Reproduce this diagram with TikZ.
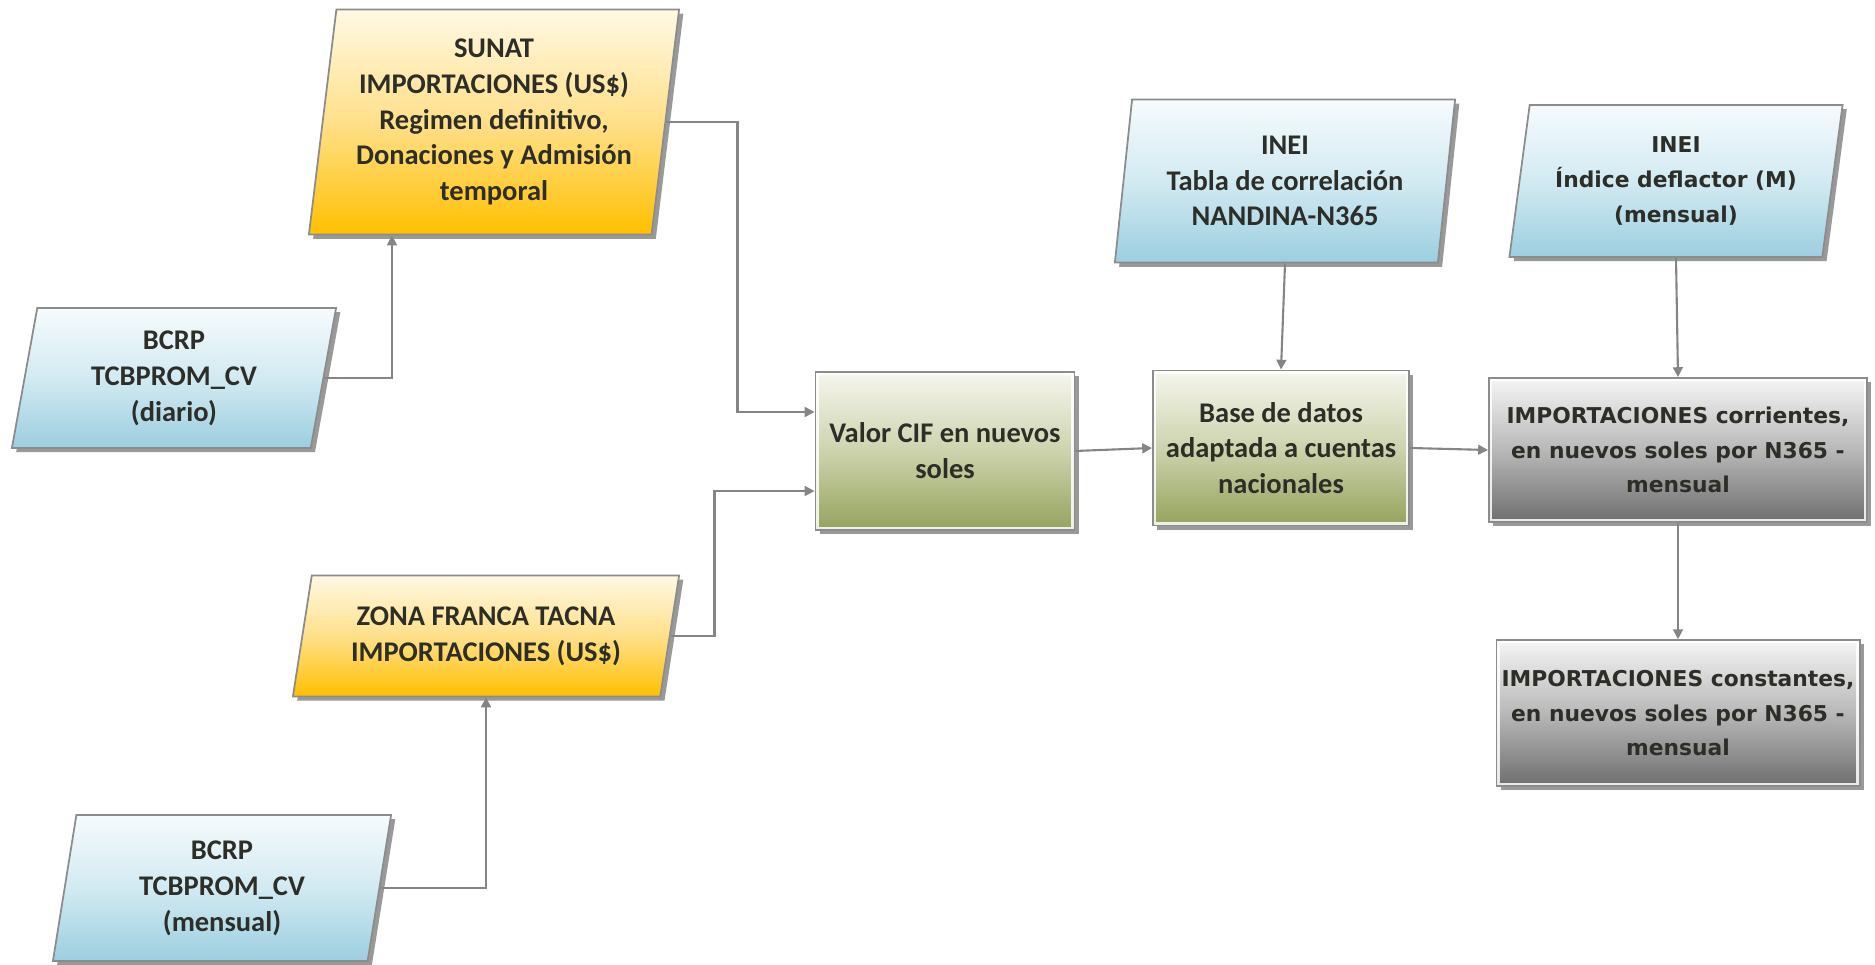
\documentclass[tikz,border=0pt]{standalone}
\usepackage{fontspec}
\setmainfont{Carlito}
\newfontfamily\verdfont{DejaVu Sans}
\usepackage{tikz}
\usetikzlibrary{arrows.meta,shapes.geometric,shadows}

\definecolor{tinta}{HTML}{2E2E28}
\definecolor{borde}{HTML}{8C8C8C}
\definecolor{linea}{HTML}{858585}
\definecolor{naranjaA}{HTML}{FFF9E4}
\definecolor{naranjaB}{HTML}{FFE08A}
\definecolor{naranjaC}{HTML}{FFC000}
\definecolor{celesteA}{HTML}{F6FBFD}
\definecolor{celesteB}{HTML}{D2EAF2}
\definecolor{celesteC}{HTML}{9CCEE0}
\definecolor{olivaA}{HTML}{F6F6EE}
\definecolor{olivaB}{HTML}{CDD3AD}
\definecolor{olivaC}{HTML}{95A35D}
\definecolor{grisA}{HTML}{F5F5F5}
\definecolor{grisB}{HTML}{B8B8B8}
\definecolor{grisC}{HTML}{6E6E6E}

\begin{document}
\begin{tikzpicture}[x=0.01cm,y=-0.01cm,node distance=2.63cm,
  >={Triangle[length=2.8pt,width=2.8pt]},
  every node/.style={text=tinta,align=center,inner sep=1pt,font=\bfseries\fontsize{8.1}{10.2}\selectfont},
  verdana/.style={font=\verdfont\bfseries\fontsize{6.2}{9.9}\selectfont},
  caja/.style={draw=borde,line width=0.5pt,drop shadow={shadow xshift=1.2pt,shadow yshift=-1.2pt,opacity=0.4,fill=black}},
  dato/.style={caja,trapezium,trapezium stretches body,trapezium left angle=#1,trapezium right angle={180-#1}},
  proceso/.style={caja,rectangle,path picture={\draw[white,opacity=0.85,line width=1.8pt] (path picture bounding box.south west) rectangle (path picture bounding box.north east);}},
  naranja/.style={top color=naranjaA,bottom color=naranjaC,middle color=naranjaB},
  celeste/.style={top color=celesteA,bottom color=celesteC,middle color=celesteB},
  oliva/.style={top color=olivaA,bottom color=olivaC,middle color=olivaB},
  gris/.style={top color=grisA,bottom color=grisC,middle color=grisB},
  flecha/.style={->,draw=linea,line width=0.6pt}]
\useasboundingbox (0,0) rectangle (1875,965);

% fuentes de datos
\node[dato=81,naranja,minimum width=3.70cm,minimum height=2.25cm] (sunat) at (494,122) {SUNAT\\IMPORTACIONES (US\$)\\Regimen definitivo,\\Donaciones y Admisión\\temporal};
\node[dato=76,celeste,minimum width=3.24cm,minimum height=1.40cm] (bcrpdia) at (174,378) {BCRP\\TCBPROM\_CV\\(diario)};
\node[dato=74,naranja,minimum width=3.86cm,minimum height=1.21cm] (zona) at (486,636) {ZONA FRANCA TACNA\\IMPORTACIONES (US\$)};
\node[dato=77,celeste,minimum width=3.38cm,minimum height=1.46cm] (bcrpmes) at (222,888) {BCRP\\TCBPROM\_CV\\(mensual)};
\node[dato=80,celeste,minimum width=3.40cm,minimum height=1.63cm] (tabla) at (1285,181) {INEI\\Tabla de correlación\\NANDINA-N365};
\node[dato=78,celeste,verdana,minimum width=3.33cm,minimum height=1.52cm] (deflactor) at (1676,181) {INEI\\Índice deflactor (M)\\(mensual)};

% procesos
\node[proceso,oliva,minimum width=2.59cm,minimum height=1.58cm] (valorcif) at (945,451) {Valor CIF en nuevos\\soles};
\node[proceso,oliva,minimum width=2.56cm,minimum height=1.55cm] (basedatos) at (1281,448) {Base de datos\\adaptada a cuentas\\nacionales};
\node[proceso,gris,verdana,minimum width=3.78cm,minimum height=1.44cm] (corrientes) at (1678,450) {IMPORTACIONES corrientes,\\en nuevos soles por N365 -\\mensual};
\node[proceso,gris,verdana,minimum width=3.63cm,minimum height=1.46cm] (constantes) [below of = corrientes] {IMPORTACIONES constantes,\\en nuevos soles por N365 -\\mensual};

% conectores
\draw[flecha] (bcrpdia.east) -| ([xshift=-1.02cm]sunat.south);
\draw[flecha] (sunat.east) -| ([xshift=-0.77cm,yshift=0.39cm]valorcif.west) -- ([yshift=0.39cm]valorcif.west);
\draw[flecha] (zona.east) -| ([xshift=-1.00cm,yshift=-0.40cm]valorcif.west) -- ([yshift=-0.40cm]valorcif.west);
\draw[flecha] (bcrpmes.east) -| (zona.south);
\path (valorcif.east) edge [flecha] (basedatos.west);
\path (tabla.south) edge [flecha] (basedatos.north);
\path (basedatos.east) edge [flecha] (corrientes.west);
\path (deflactor.south) edge [flecha] (corrientes.north);
\path (corrientes.south) edge [flecha] (constantes.north);
\end{tikzpicture}
\end{document}
